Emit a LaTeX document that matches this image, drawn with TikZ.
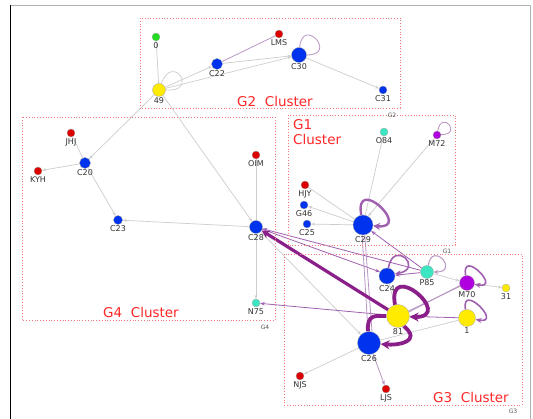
\documentclass[tikz,border=0pt]{standalone}
\usepackage{fontspec}
\setmainfont{DejaVu Sans}
\usetikzlibrary{arrows.meta}
\definecolor{nblue}{RGB}{0,51,238}
\definecolor{nred}{RGB}{221,0,0}
\definecolor{nyellow}{RGB}{255,235,0}
\definecolor{ncyan}{RGB}{60,230,195}
\definecolor{npurple}{RGB}{176,0,224}
\definecolor{ngreen}{RGB}{34,221,34}
\definecolor{egray}{RGB}{205,205,205}
\definecolor{epurl}{RGB}{185,150,195}
\definecolor{epur}{RGB}{160,96,176}
\definecolor{edark}{RGB}{138,31,138}
\definecolor{clus}{RGB}{255,40,40}
\definecolor{clusbox}{RGB}{245,120,120}
\pgfdeclarelayer{bg}
\pgfsetlayers{bg,main}
\tikzset{
  vx/.style={circle,inner sep=0pt,draw=gray!70,line width=0.3pt,minimum size=#1},
  lbl/.style={font=\fontsize{8}{9}\selectfont,text=black!80,inner sep=1pt},
  clusterbox/.style={draw=clusbox,dotted,line width=0.8pt},
  ctitle/.style={text=clus,font=\fontsize{13.5}{15}\selectfont,inner sep=0pt},
  gtag/.style={text=gray!70!black,font=\fontsize{6}{7}\selectfont,inner sep=0pt},
  gedge/.style={draw=egray,line width=0.7pt,-{Stealth[length=4pt,width=3pt]}},
  gline/.style={draw=egray,line width=0.7pt},
  pedge/.style={draw=epur,line width=0.8pt,-{Stealth[length=4.5pt,width=3.5pt]}},
  pline/.style={draw=epurl,line width=0.8pt},
  ploop/.style={draw=epurl,line width=1pt,-{Stealth[length=4.5pt,width=4pt]}},
  mloop/.style={draw=epur,line width=1.6pt,-{Stealth[length=6pt,width=5pt]}},
  tedge/.style={draw=edark,line width=3.2pt,-{Stealth[length=8pt,width=8pt]}},
}
\begin{document}
\begin{tikzpicture}[x=1pt,y=1pt]
\useasboundingbox (0,0) rectangle (533,-419);
\begin{pgfonlayer}{bg}
\fill[white] (0,0) rectangle (533,-419);
\end{pgfonlayer}
% outer frame
\draw[gray!60,line width=0.8pt] (10,-5) -- (530,-5) -- (530,-419);
\draw[black,line width=0.8pt] (10,-5) -- (10,-419);

% clusters
\draw[clusterbox] (140,-18) rectangle (400,-108);
\draw[clusterbox] (22,-117) rectangle (275,-320);
\draw[clusterbox] (288,-115) rectangle (455,-245);
\draw[clusterbox] (284,-254) rectangle (522,-405);
\node[ctitle] (t2) at (275,-101) {G2\ \ Cluster};
\node[ctitle] (t4) at (141,-312) {G4\ \ Cluster};
\node[ctitle,anchor=north west,align=left] (t1) at (293,-119) {G1\\Cluster};
\node[ctitle] (t3) at (471,-397) {G3\ \ Cluster};
\node[gtag] (g2) at (392,-115) {G2};
\node[gtag] (g4) at (265,-327) {G4};
\node[gtag] (g1) at (447,-251) {G1};
\node[gtag] (g3) at (513,-411) {G3};

% nodes
\node[vx=8pt,fill=ngreen,label={[lbl]below:0}] (n0) at (156,-37) {};
\node[vx=8pt,fill=nred,label={[lbl]below:LMS}] (LMS) at (279,-34) {};
\node[vx=15pt,fill=nblue,label={[lbl]below:C30}] (C30) at (299,-55) {};
\node[vx=11pt,fill=nblue,label={[lbl]below:C22}] (C22) at (217,-64) {};
\node[vx=13pt,fill=nyellow,label={[lbl]below:49}] (n49) at (159,-90) {};
\node[vx=8pt,fill=nblue,label={[lbl]below:C31}] (C31) at (383,-90) {};
\node[vx=8pt,fill=nred,label={[lbl]below:JHJ}] (JHJ) at (71,-133) {};
\node[vx=11pt,fill=nblue,label={[lbl]below:C20}] (C20) at (85,-163) {};
\node[vx=8pt,fill=nred,label={[lbl]below:KYH}] (KYH) at (38,-171) {};
\node[vx=9pt,fill=nblue,label={[lbl]below:C23}] (C23) at (118,-220) {};
\node[vx=8pt,fill=nred,label={[lbl]below:OIM}] (OIM) at (256,-155) {};
\node[vx=13pt,fill=nblue,label={[lbl]below:C28}] (C28) at (256,-227) {};
\node[vx=8pt,fill=ncyan,label={[lbl]below:N75}] (N75) at (256,-303) {};
\node[vx=8pt,fill=ncyan,label={[lbl]below:O84}] (O84) at (384,-132) {};
\node[vx=8pt,fill=npurple,label={[lbl]below:M72}] (M72) at (437,-135) {};
\node[vx=8pt,fill=nred,label={[lbl]below:HJY}] (HJY) at (305,-185) {};
\node[vx=8pt,fill=nblue,label={[lbl]below:G46}] (G46) at (304,-205) {};
\node[vx=8pt,fill=nblue,label={[lbl]below:C25}] (C25) at (307,-224) {};
\node[vx=20pt,fill=nblue,label={[lbl]below:C29}] (C29) at (363,-225) {};
\node[vx=16pt,fill=nblue,label={[lbl]below:C24}] (C24) at (387,-276) {};
\node[vx=13pt,fill=ncyan,label={[lbl]below:P85}] (P85) at (427,-272) {};
\node[vx=15pt,fill=npurple,label={[lbl]below:M70}] (M70) at (467,-283) {};
\node[vx=8pt,fill=nyellow,label={[lbl]below:31}] (n31) at (506,-288) {};
\node[vx=23pt,fill=nyellow,label={[lbl]below:81}] (n81) at (398,-316) {};
\node[vx=17pt,fill=nyellow,label={[lbl]below:1}] (n1) at (467,-318) {};
\node[vx=23pt,fill=nblue,label={[lbl]below:C26}] (C26) at (369,-343) {};
\node[vx=8pt,fill=nred,label={[lbl]below:NJS}] (NJS) at (300,-376) {};
\node[vx=8pt,fill=nred,label={[lbl]below:LJS}] (LJS) at (386,-389) {};

\begin{pgfonlayer}{bg}
% G2 edges
\draw[gline] (n0) -- (n49);
\draw[gedge] (n49) -- (C22);
\draw[gedge] (n49) -- (C30);
\draw[gedge] (C22) -- (C30);
\draw[pline] (C22) -- (LMS);
\draw[gedge] (C30) -- (C31);
\draw[pline] (C30.85) .. controls +(85:32) and +(0:32) .. (C30.0);
\draw[gline] (n49.70) .. controls +(70:34) and +(-5:34) .. (n49.0);
\draw[gedge] (n49) -- (C20);
\draw[gedge] (n49) -- (C28);
% G4 edges
\draw[gline] (JHJ) -- (C20);
\draw[gedge] (C20) -- (KYH);
\draw[gedge] (C20) -- (C23);
\draw[gedge] (C28) -- (C23);
\draw[gline] (OIM) -- (C28);
\draw[gedge] (C28) -- (N75);
% G1 edges
\draw[gline] (O84) -- (C29);
\draw[gedge] (M72) -- (C29.60);
\draw[pline] (M72.80) .. controls +(80:22) and +(0:22) .. (M72.5);
\draw[gline] (C29) -- (HJY);
\draw[gedge] (C29) -- (G46);
\draw[gedge] (C29) -- (C25);
\draw[draw=epur,line width=2.4pt,-{Stealth[length=7pt,width=7pt]}] (C29.100) .. controls +(100:42) and +(-5:40) .. (C29.-5);
% G3 edges
\draw[gedge] (C28) -- (C26);
\draw[pedge] (P85) -- (C28);
\draw[pedge] (C28) -- (C24.150);
\draw[pedge] (n81) -- (N75);
\draw[pedge] (P85) -- (C29);
\draw[pline] (C29.-95) -- (C26.95);
\draw[pline] (C29.-80) -- (C26.75);
\draw[pedge] (P85) -- (C24);
\draw[pline] (n81) -- (M70);
\draw[pline] (n81.20) -- (M70.200);
\draw[pedge] (n1) -- (n81);
\draw[gedge] (P85) -- (M70);
\draw[gedge] (M70) -- (n31);
\draw[gedge] (C24) -- (n81);
\draw[gline] (n1) -- (C26);
\draw[gedge] (C26) -- (NJS);
\draw[draw=epurl,line width=0.8pt,-{Stealth[length=4.5pt,width=3.5pt]}] (C26) -- (LJS);
\draw[mloop] (C24.80) .. controls +(80:30) and +(10:30) .. (C24.15);
\draw[ploop] (P85.80) .. controls +(80:26) and +(0:26) .. (P85.0);
\draw[mloop] (M70.100) .. controls +(100:28) and +(-10:28) .. (M70.-10);
\draw[mloop] (n1.100) .. controls +(100:28) and +(-10:28) .. (n1.-10);
\draw[tedge] (n81) -- (C28);
\draw[draw=edark,line width=3.8pt,-{Stealth[length=9pt,width=9pt]}] (n81.105) .. controls +(100:48) and +(0:46) .. (n81.-5);
\draw[draw=edark,line width=3.8pt,-{Stealth[length=9pt,width=9pt]}] (n81.-60) .. controls +(-40:24) and +(-5:18) .. (C26.-5);
\draw[draw=edark,line width=3.8pt] (C26.95) .. controls +(95:18) and +(180:10) .. (n81.180);
\end{pgfonlayer}
\end{tikzpicture}
\end{document}
